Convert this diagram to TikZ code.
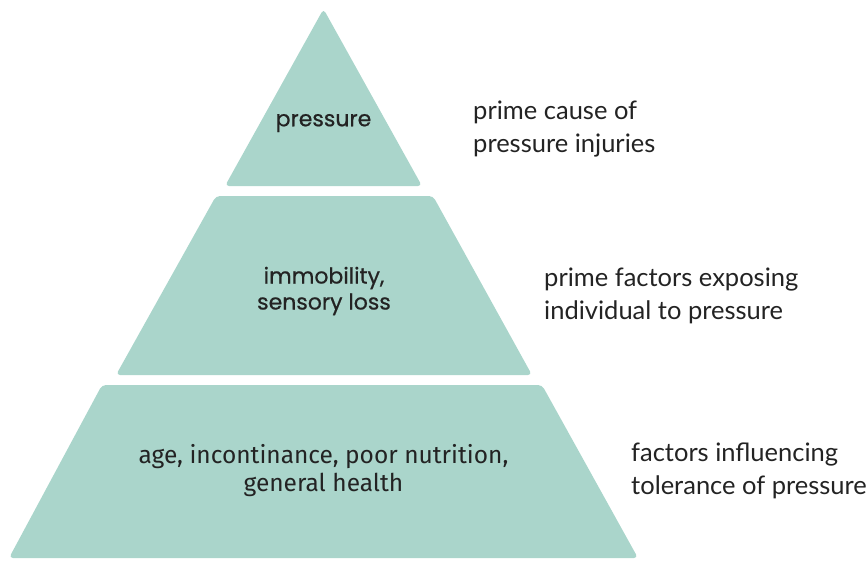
\documentclass[tikz,border=0pt]{standalone}
\usepackage{fontspec}
\setmainfont{Lato}
\newfontfamily\pyrfont{Poppins}[FakeBold=0.6]
\newfontfamily\basefont{Fira Sans}
\definecolor{pyrfill}{RGB}{170,213,203}
\definecolor{txt}{RGB}{35,35,35}
\begin{document}
\begin{tikzpicture}[x=1pt,y=-1pt,
  tier/.style={fill=pyrfill,draw=none,rounded corners=4pt},
  tiertext/.style={text=txt,align=center,inner sep=0pt},
  side/.style={text=txt,align=left,inner sep=0pt,anchor=west,font=\fontsize{25.5}{33}\selectfont}]
\useasboundingbox (0,0) rectangle (868,560);
% tiers
\fill[tier] (323.5,9) -- (422,186) -- (225,186) -- cycle;
\fill[tier] (216,196) -- (433,196) -- (532,375) -- (116,375) -- cycle;
\fill[tier] (102,385) -- (542,385) -- (638,558) -- (9,558) -- cycle;
% tier labels
\node[tiertext,font=\pyrfont\fontsize{22}{26}\selectfont] (t1) at (323.5,123) {pressure};
\node[tiertext,font=\pyrfont\fontsize{22}{26}\selectfont] (t2) at (324,291) {immobility,\\sensory loss};
\node[tiertext,font=\basefont\fontsize{24.5}{28}\selectfont] (t3) at (323.5,471) {age, incontinance, poor nutrition,\\general health};
% side labels
\node[side] (s1) at (473,129) {prime cause of\\pressure injuries};
\node[side] (s2) at (544,296) {prime factors exposing\\individual to pressure};
\node[side] (s3) at (631,471) {factors influencing\\tolerance of pressure};
\end{tikzpicture}
\end{document}
